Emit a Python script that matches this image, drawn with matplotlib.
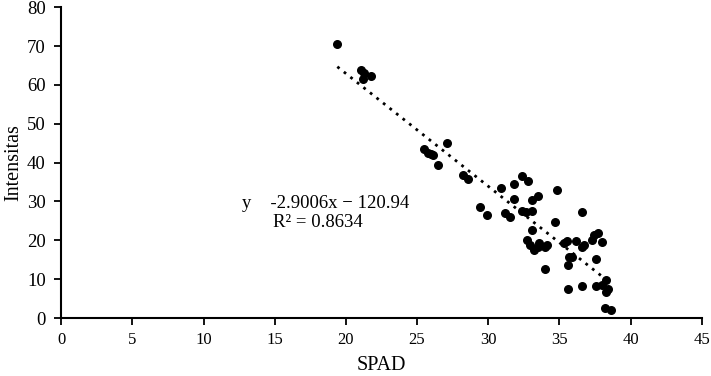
"""SPAD vs intensitas scatter with linear trendline."""

import numpy as np
import matplotlib.pyplot as plt

plt.rcParams["font.family"] = ["Liberation Serif", "DejaVu Serif"]

spad = [
    19.4, 21.05, 21.3, 21.2, 21.8,
    25.5, 25.8, 26.15, 26.0, 26.5,
    27.1, 28.25, 28.55, 29.4, 29.9,
    30.9, 31.2, 31.5, 31.8, 31.8,
    32.35, 32.4, 32.65, 32.8, 33.1,
    33.1, 33.1, 33.5, 34.8, 34.7,
    32.7, 32.9, 33.2, 33.5, 33.6,
    34.0, 34.1, 34.0, 35.3, 35.5,
    35.7, 35.6, 35.6, 35.9, 36.2,
    36.6, 36.7, 36.6, 36.6, 37.3,
    37.4, 37.7, 38.0, 37.6, 37.6,
    38.3, 38.4, 38.3, 38.0, 38.2,
    38.6,
]
intensitas = [
    70.6, 63.8, 63.1, 61.4, 62.2,
    43.6, 42.6, 42.0, 42.3, 39.3,
    45.0, 36.9, 35.7, 28.5, 26.5,
    33.5, 27.1, 26.0, 34.4, 30.6,
    27.6, 36.5, 27.4, 35.2, 27.5,
    30.3, 22.6, 31.4, 32.9, 24.8,
    20.2, 18.8, 17.5, 18.3, 19.2,
    18.3, 18.9, 12.7, 19.2, 19.9,
    15.8, 13.6, 7.5, 15.8, 19.9,
    27.2, 18.8, 18.2, 8.2, 20.1,
    21.3, 21.8, 19.6, 15.3, 8.2,
    9.8, 7.6, 6.8, 8.5, 2.7,
    2.1,
]

slope = -2.9006
intercept = 120.94
eq_text = "y    -2.9006x \u2212 120.94"
r2_text = "R\u00b2 = 0.8634"


def main():
    fig = plt.figure(figsize=(7.11, 3.76), dpi=100)
    ax = fig.add_axes([0.086, 0.154, 0.901, 0.827])

    ax.scatter(spad, intensitas, s=30, color="black", zorder=3)

    # garis tren
    xs = np.linspace(min(spad), max(spad), 50)
    ax.plot(xs, slope * xs + intercept, color="black", linestyle=(0, (1, 2)),
            linewidth=2)

    ax.text(12.7, 29.6, eq_text, fontsize=13.5, va="center")
    ax.text(18.05, 24.5, r2_text, fontsize=13.5, va="center", ha="center")

    ax.set_xlim(0, 45)
    ax.set_ylim(0, 80)
    ax.set_xticks(range(0, 46, 5))
    ax.set_yticks(range(0, 81, 10))
    ax.tick_params(width=1.3, length=5, direction="out")
    ax.tick_params(axis="x", labelsize=12, pad=5)
    ax.tick_params(axis="y", labelsize=13.5, pad=6)

    ax.set_xlabel("SPAD", fontsize=14.5, labelpad=6)
    ax.set_ylabel("Intensitas", fontsize=14.5, labelpad=3)

    for side in ("top", "right"):
        ax.spines[side].set_visible(False)
    for side in ("left", "bottom"):
        ax.spines[side].set_linewidth(1.5)

    fig.savefig("out.png", dpi=100)
    plt.close(fig)


if __name__ == "__main__":
    main()
